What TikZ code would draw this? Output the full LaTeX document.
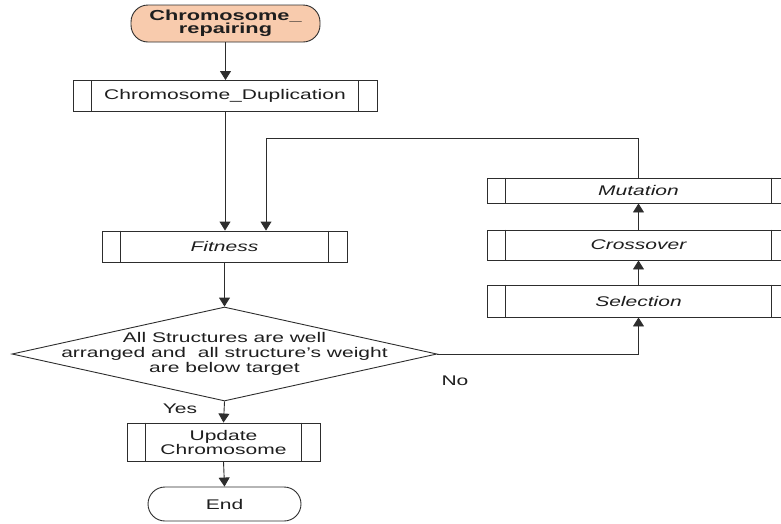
\documentclass[tikz,border=0pt]{standalone}
\usepackage{fontspec}
\setmainfont{Liberation Sans}[FakeStretch=1.5]
\usetikzlibrary{arrows.meta,shapes.geometric}
\definecolor{termfill}{RGB}{248,203,173}
\definecolor{ink}{RGB}{45,45,45}
\definecolor{txt}{RGB}{30,30,30}
\tikzset{
  base/.style={draw=ink, line width=0.9pt, inner sep=0pt, text=txt, font=\fontsize{14}{15}\selectfont},
  procbox/.style={base, rectangle},
  term/.style={base, rectangle, rounded corners=17pt},
  dia/.style={base, diamond},
  arr/.style={draw=ink, line width=0.9pt, -{Triangle[width=11pt,length=9pt]}},
  ln/.style={draw=ink, line width=0.9pt},
  lbl/.style={text=txt, font=\fontsize{14}{15}\selectfont, inner sep=0pt}
}
\begin{document}
\begin{tikzpicture}[x=1pt,y=-1pt]
\useasboundingbox (0,0) rectangle (781,523);
% start
\node[term, fill=termfill, minimum width=189pt, minimum height=37pt, align=center,
      font=\fontsize{14.5}{13}\selectfont\bfseries] (start) at (225.5,23.5) {Chromosome\_\\repairing};
% duplication
\node[procbox, minimum width=304pt, minimum height=31pt] (dup) at (225,96) {Chromosome\_Duplication};
\draw[ln] ([xshift=19pt]dup.north west) -- ([xshift=19pt]dup.south west);
\draw[ln] ([xshift=-19pt]dup.north east) -- ([xshift=-19pt]dup.south east);
% fitness
\node[procbox, minimum width=245pt, minimum height=31pt] (fit) at (224.5,246.5) {\itshape Fitness};
\draw[ln] ([xshift=19pt]fit.north west) -- ([xshift=19pt]fit.south west);
\draw[ln] ([xshift=-19pt]fit.north east) -- ([xshift=-19pt]fit.south east);
% decision
\node[dia, minimum width=425pt, minimum height=94pt] (dec) at (224.5,354) {};
\node[lbl, align=center] (dectext) at (dec.center) {All Structures are well\\arranged and\ \ all structure's weight\\are below target};
% update
\node[procbox, minimum width=193pt, minimum height=38pt, align=center, font=\fontsize{14}{14}\selectfont] (upd) at (223.5,442) {Update\\Chromosome};
\draw[ln] ([xshift=19pt]upd.north west) -- ([xshift=19pt]upd.south west);
\draw[ln] ([xshift=-19pt]upd.north east) -- ([xshift=-19pt]upd.south east);
% end
\node[term, minimum width=153pt, minimum height=34pt] (end) at (224.5,504) {End};
% right column
\node[procbox, minimum width=303pt, minimum height=32pt] (sel) at (638.5,301) {\itshape Selection};
\node[procbox, minimum width=303pt, minimum height=30pt] (cro) at (638.5,245) {\itshape Crossover};
\node[procbox, minimum width=303pt, minimum height=25pt] (mut) at (638.5,190.5) {\itshape Mutation};
\foreach \b in {sel,cro,mut}{
  \draw[ln] ([xshift=19pt]\b.north west) -- ([xshift=19pt]\b.south west);
  \draw[ln] ([xshift=-19pt]\b.north east) -- ([xshift=-19pt]\b.south east);
}
% connectors
\draw[arr] (start.south) -- (start.south |- dup.north);
\draw[arr] (dup.south) -- (dup.south |- fit.north);
\draw[arr] (fit.south) -- (dec.north);
\draw[arr] (dec.south) -- (upd.north);
\draw[arr] (upd.south) -- (end.north);
\draw[arr] (dec.east) -| (sel.south);
\draw[arr] (sel.north) -- (cro.south);
\draw[arr] (cro.north) -- (mut.south);
\coordinate (loop) at (638.5,138);
\draw[arr] (mut.north) -- (loop) -| ([xshift=41.5pt]fit.north);
% labels
\node[lbl] (yes) at (180,409) {Yes};
\node[lbl] (no) at (455,381) {No};
\end{tikzpicture}
\end{document}
